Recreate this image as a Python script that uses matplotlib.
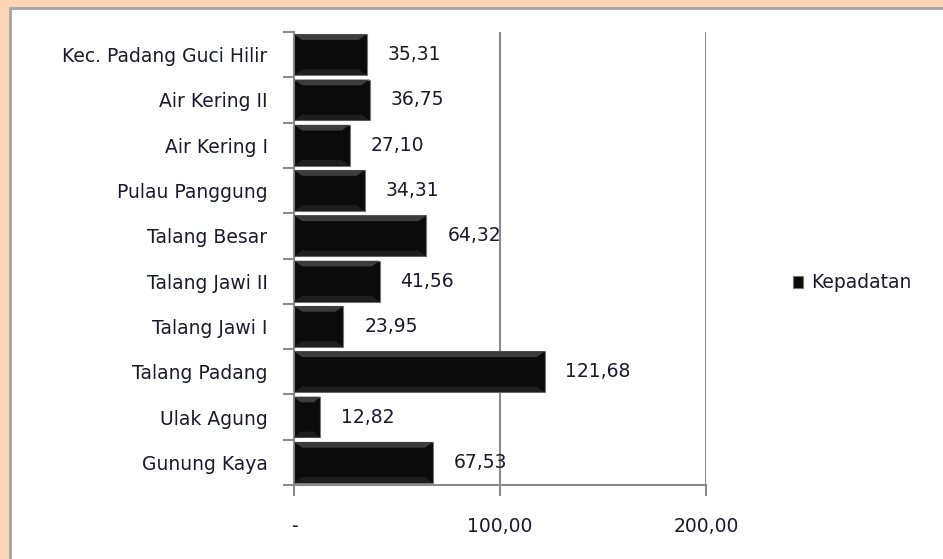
import matplotlib
matplotlib.use("Agg")
import matplotlib.pyplot as plt
from matplotlib.patches import Rectangle, Polygon
import numpy as np

# ---------------------------------------------------------
# Data
# ---------------------------------------------------------
categories = ["Kec. Padang Guci Hilir", "Air Kering II", "Air Kering I",
              "Pulau Panggung", "Talang Besar", "Talang Jawi II",
              "Talang Jawi I", "Talang Padang", "Ulak Agung", "Gunung Kaya"]
kepadatan = [35.31, 36.75, 27.10, 34.31, 64.32, 41.56, 23.95, 121.68, 12.82, 67.53]
x_ticks = [0, 100, 200]
x_tick_labels = ["-", "100,00", "200,00"]

PEACH = "#FDD4B4"
GRID = "#8c8c8c"
TEXT = "#1a1a2e"
FS = 13.5

plt.rcParams["font.family"] = ["DejaVu Sans"]

fig = plt.figure(figsize=(9.43, 5.59), dpi=100)
fig.patch.set_facecolor(PEACH)

# white chart area with grey frame
fig.patches.append(Rectangle((9.5 / 943, -0.01), 1, 1 - 7.5 / 559 + 0.01,
                             transform=fig.transFigure, facecolor="white",
                             edgecolor="#a4a4a4", linewidth=2, zorder=-5))

ax = fig.add_axes([294 / 943, 1 - 485 / 559, (706 - 294) / 943, (485 - 32) / 559])
ax.set_facecolor("none")

y = np.arange(len(categories))
bars = ax.barh(y, kepadatan, height=0.9, color="#0b0b0b", edgecolor="#777777",
               linewidth=0.8, zorder=3)

# bevel look: light top strip and faint side facets
for b in bars:
    x0, y0, w, h = b.get_x(), b.get_y(), b.get_width(), b.get_height()
    bw = min(w * 0.25, 4.0)
    ax.add_patch(Polygon([(x0, y0), (x0 + w, y0), (x0 + w - bw, y0 + h * 0.14),
                          (x0 + bw, y0 + h * 0.14)], closed=True,
                         facecolor="#3c3c3c", edgecolor="none", zorder=4))
    ax.add_patch(Polygon([(x0, y0 + h), (x0 + w, y0 + h), (x0 + w - bw, y0 + h * 0.86),
                          (x0 + bw, y0 + h * 0.86)], closed=True,
                         facecolor="#1e1e1e", edgecolor="none", zorder=4))

for yi, v in zip(y, kepadatan):
    ax.annotate(f"{v:.2f}".replace(".", ","), (v, yi), xytext=(15, 0),
                textcoords="offset points", va="center", ha="left",
                fontsize=FS, color=TEXT)

ax.set_xlim(0, 200)
ax.set_ylim(len(categories) - 0.5, -0.5)

ax.set_yticks(y)
ax.set_yticklabels(categories, fontsize=FS, color=TEXT)
ax.set_yticks(np.arange(-0.5, len(categories)), minor=True)
ax.tick_params(axis="y", which="major", length=0, pad=19)
ax.tick_params(axis="y", which="minor", length=8, width=1.5, color=GRID)

ax.set_xticks(x_ticks)
ax.set_xticklabels(x_tick_labels, fontsize=FS, color=TEXT)
ax.tick_params(axis="x", length=8, width=1.5, color=GRID, pad=15)

ax.grid(axis="x", color=GRID, linewidth=1.5, zorder=0)
for s in ["top", "right"]:
    ax.spines[s].set_visible(False)
for s in ["left", "bottom"]:
    ax.spines[s].set_color(GRID)
    ax.spines[s].set_linewidth(1.5)

leg = fig.legend([bars], ["Kepadatan"], loc="center left",
                 bbox_to_anchor=(776 / 943, 1 - 283 / 559), frameon=False,
                 fontsize=FS, handlelength=0.55, handleheight=0.55, handletextpad=0.4)
for t in leg.get_texts():
    t.set_color(TEXT)

fig.savefig("out.png", dpi=100, facecolor=fig.get_facecolor())
